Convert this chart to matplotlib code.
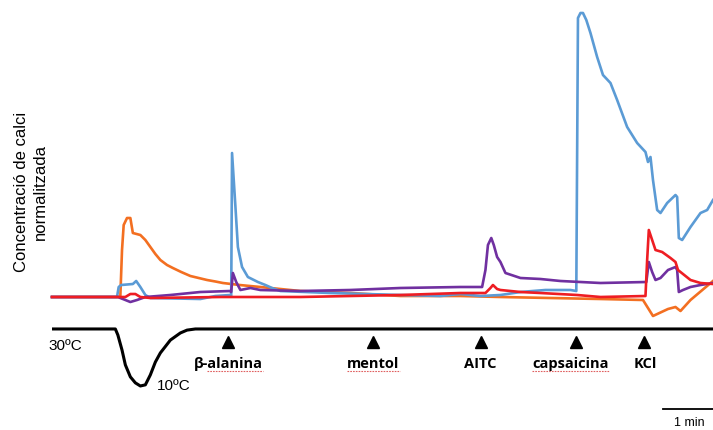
import matplotlib
matplotlib.use("Agg")
import matplotlib.pyplot as plt
import matplotlib.transforms as mtransforms

# time in s, signal as normalised ratio (baseline = 1)
t_orange = [0, 79, 82, 84, 86, 90, 94, 97, 106, 112, 118, 124, 130, 138, 145, 155, 166, 176,
            186, 196, 205, 225, 250, 298, 358, 418, 490, 538, 598, 658, 709, 721, 739, 748,
            754, 766, 793]
v_orange = [1.00, 1.00, 1.01, 1.47, 1.72, 1.79, 1.79, 1.64, 1.62, 1.57, 1.50, 1.43, 1.37, 1.32,
            1.29, 1.25, 1.21, 1.19, 1.17, 1.155, 1.14, 1.12, 1.10, 1.06, 1.04, 1.01, 1.01,
            1.00, 0.99, 0.98, 0.97, 0.81, 0.88, 0.90, 0.86, 0.97, 1.16]

t_blue = [0, 78, 80, 83, 97, 101, 106, 112, 118, 178, 196, 214, 215, 216, 220, 223, 228, 235,
          247, 256, 264, 274, 334, 418, 466, 490, 514, 538, 562, 592, 622, 629, 631, 634, 637,
          641, 646, 654, 661, 670, 678, 690, 702, 712, 715, 718, 721, 726, 730, 738, 748, 750,
          752, 756, 766, 778, 786, 793]
v_blue = [1.00, 1.00, 1.10, 1.12, 1.13, 1.16, 1.10, 1.02, 0.99, 0.98, 1.01, 1.02, 1.01, 2.44,
          1.91, 1.50, 1.30, 1.20, 1.15, 1.12, 1.09, 1.06, 1.04, 1.02, 1.01, 1.03, 1.01, 1.02,
          1.05, 1.07, 1.07, 1.06, 3.79, 3.84, 3.84, 3.77, 3.64, 3.40, 3.22, 3.14, 2.97, 2.70,
          2.54, 2.45, 2.35, 2.40, 2.17, 1.87, 1.84, 1.94, 2.02, 2.00, 1.59, 1.57, 1.70, 1.84,
          1.87, 1.97]

t_red = [0, 88, 94, 100, 106, 118, 202, 298, 358, 418, 490, 520, 526, 529, 534, 538, 562, 586,
         630, 658, 712, 714, 716, 720, 724, 732, 742, 748, 751, 766, 778, 793]
v_red = [1.00, 1.00, 1.03, 1.03, 1.00, 0.99, 1.00, 1.00, 1.01, 1.02, 1.04, 1.04, 1.09, 1.12,
         1.08, 1.07, 1.05, 1.04, 1.02, 1.00, 1.01, 1.37, 1.67, 1.57, 1.47, 1.45, 1.39, 1.35,
         1.27, 1.17, 1.14, 1.13]

t_purple = [0, 79, 88, 94, 102, 112, 142, 178, 214, 215, 217, 221, 226, 238, 250, 298, 358,
            418, 490, 516, 520, 523, 527, 530, 534, 538, 544, 562, 586, 610, 634, 658, 713,
            716, 720, 724, 730, 739, 748, 750, 752, 757, 766, 778, 793]
v_purple = [1.00, 1.00, 0.97, 0.95, 0.97, 1.00, 1.02, 1.05, 1.06, 1.05, 1.24, 1.15, 1.07, 1.09,
            1.07, 1.06, 1.07, 1.09, 1.10, 1.10, 1.27, 1.52, 1.59, 1.52, 1.40, 1.35, 1.24, 1.19,
            1.18, 1.16, 1.15, 1.14, 1.15, 1.35, 1.25, 1.17, 1.19, 1.27, 1.30, 1.27, 1.05, 1.07,
            1.10, 1.12, 1.14]

# bath temperature (ºC)
t_temp = [0, 76, 79, 84, 88, 94, 100, 106, 112, 118, 124, 130, 142, 154, 162, 172, 793]
temp = [30, 30, 27.9, 22.6, 17.4, 13.2, 11.1, 10.0, 10.4, 13.9, 18.4, 21.6, 26.1, 28.6, 29.6,
        30, 30]

stim_names = ["β-alanina", "mentol", "AITC", "capsaicina", "KCl"]
stim_times = [211, 385, 515, 629, 710]
label_x = [211, 385, 514, 622, 712]

W, H = 713, 430
fig = plt.figure(figsize=(W / 100, H / 100), dpi=100)
left, width = 52 / W, 661 / W

ax = fig.add_axes([left, (H - 310) / H, width, 310 / H])
ax.plot(t_orange, v_orange, color="#F36F21", lw=1.9, clip_on=False)
ax.plot(t_blue, v_blue, color="#5B9BD5", lw=1.9, clip_on=False)
ax.plot(t_purple, v_purple, color="#7030A0", lw=1.9, clip_on=False)
ax.plot(t_red, v_red, color="#EE1D23", lw=1.9, clip_on=False)
ax.set_xlim(0, 793)
ax.set_ylim(0.87, 3.97)
ax.axis("off")

fig.text(31 / W, 1 - 192 / H, "Concentració de calci\nnormalitzada", rotation=90,
         ha="center", va="center", fontsize=12, family="Liberation Sans",
         linespacing=1.25)

# temperature trace and stimulus marks
tax = fig.add_axes([left, 0, width, 115 / H])
tax.plot(t_temp, temp, color="black", lw=2.2, solid_capstyle="butt")
tax.set_xlim(0, 793)
tax.set_ylim(-5.44, 34.9)
tax.axis("off")
tr = mtransforms.blended_transform_factory(tax.transData, tax.transAxes)

tax.plot(stim_times, [0.765] * len(stim_times), "^", color="black", ms=8,
         transform=tr, clip_on=False)
for name, x in zip(stim_names, label_x):
    tax.text(x, 0.574, name, transform=tr, ha="center", va="center",
             fontsize=10.5, fontweight="bold", family="Open Sans")

# spell-check squiggles under some labels
for x0, x1 in [(186, 253), (354, 418), (576, 668)]:
    tax.plot([x0, x1], [0.51, 0.51], color="#E06060", lw=0.8, ls=(0, (1.5, 1.0)),
             transform=tr, clip_on=False)

tax.text(16, 0.73, "30ºC", transform=tr, ha="center", va="center", fontsize=11,
         family="Liberation Sans")
tax.text(126, 0.383, "10ºC", transform=tr, ha="left", va="center", fontsize=11,
         family="Liberation Sans")

# scale bar
tax.plot([733, 793], [0.183, 0.183], color="black", lw=1.3, transform=tr, clip_on=False)
tax.text(764, 0.061, "1 min", transform=tr, ha="center", va="center", fontsize=9,
         family="Liberation Sans")

fig.savefig("out.png", dpi=100)
